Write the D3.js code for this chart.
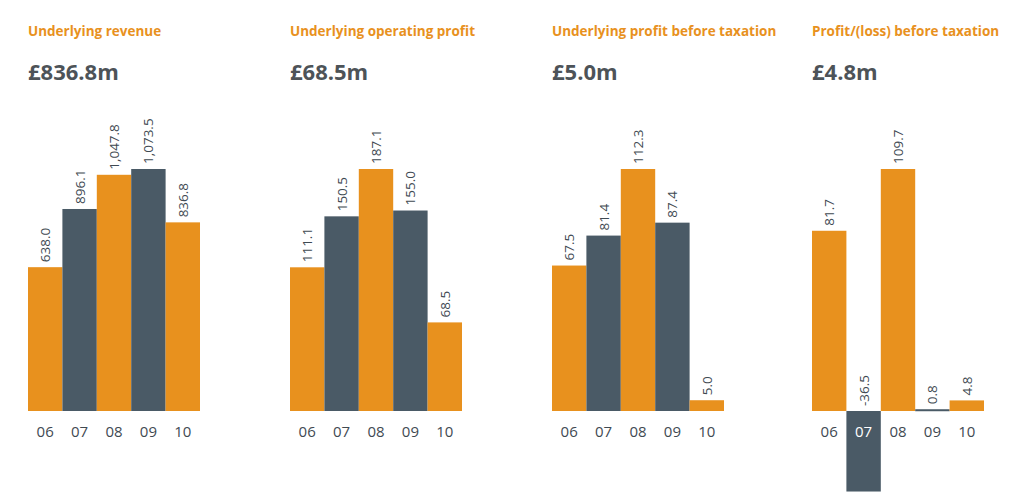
<!DOCTYPE html>
<html><head><meta charset="utf-8">
<script src="https://cdn.jsdelivr.net/npm/d3@7"></script>
<style>body{margin:0;background:#fff;font-family:"Open Sans",sans-serif;}</style>
</head><body><svg id="c" width="1014" height="496"></svg>
<script>
const years = ['06','07','08','09','10'];
const titles = ['Underlying revenue','Underlying operating profit','Underlying profit before taxation','Profit/(loss) before taxation'];
const headlines = ['£836.8m','£68.5m','£5.0m','£4.8m'];
const revenue = [638.0, 896.1, 1047.8, 1073.5, 836.8];
const opProfit = [111.1, 150.5, 187.1, 155.0, 68.5];
const pbtUnderlying = [67.5, 81.4, 112.3, 87.4, 5.0];
const pbt = [81.7, -36.5, 109.7, 0.8, 4.8];
const series = [revenue, opProfit, pbtUnderlying, pbt];
const labels = [
  ['638.0','896.1','1,047.8','1,073.5','836.8'],
  ['111.1','150.5','187.1','155.0','68.5'],
  ['67.5','81.4','112.3','87.4','5.0'],
  ['81.7','-36.5','109.7','0.8','4.8']
];

const orange = '#e8911e', slate = '#4a5a66', txt = '#3f4a52';
const svg = d3.select('#c');
const lefts = [28, 290, 552, 812];
const base = 411, topY = 169;

series.forEach(function(vals, i){
  const g = svg.append('g').attr('transform', 'translate(' + lefts[i] + ',0)');
  const x = d3.scaleBand().domain(years).range([0, 172]).padding(0);
  const mx = d3.max(vals);
  const y = d3.scaleLinear().domain([0, mx]).range([base, topY]);

  g.append('text').attr('x', 0).attr('y', 36).attr('fill', orange)
    .attr('font-size', 13.5).attr('font-weight', 700).text(titles[i]);
  g.append('text').attr('x', 0).attr('y', 80).attr('fill', '#4d5358')
    .attr('font-size', 22).attr('font-weight', 700).text(headlines[i]);

  g.selectAll('rect').data(vals).enter().append('rect')
    .attr('x', function(d, j){ return x(years[j]); })
    .attr('width', x.bandwidth())
    .attr('y', function(d){ return Math.min(y(d), y(0)); })
    .attr('height', function(d){ return Math.max(Math.abs(y(d) - y(0)), 2); })
    .attr('fill', function(d, j){ return j % 2 ? slate : orange; });

  g.selectAll('.lab').data(vals).enter().append('text')
    .attr('class', 'lab')
    .attr('transform', function(d, j){
      const cx = x(years[j]) + x.bandwidth() / 2 + 5;
      const ty = (d > 0 ? y(d) : y(0)) - 5;
      return 'translate(' + cx + ',' + ty + ') rotate(-90)';
    })
    .attr('fill', txt).attr('font-size', 13.5)
    .text(function(d, j){ return labels[i][j]; });

  g.selectAll('.yr').data(years).enter().append('text')
    .attr('class', 'yr')
    .attr('x', function(d){ return x(d) + x.bandwidth() / 2; })
    .attr('y', 437).attr('text-anchor', 'middle').attr('font-size', 15)
    .attr('fill', function(d, j){ return vals[j] < 0 ? '#fff' : txt; })
    .text(function(d){ return d; });
});
</script></body></html>
